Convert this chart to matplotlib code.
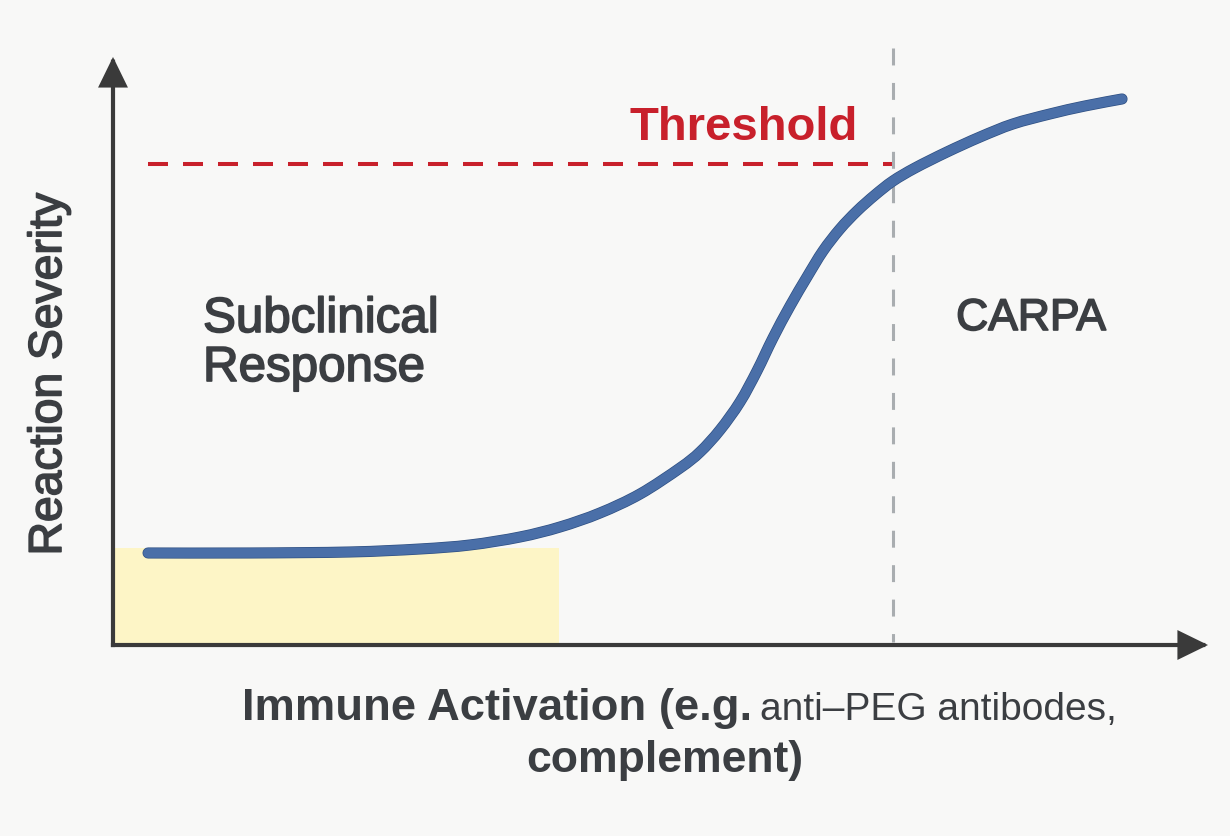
import matplotlib
matplotlib.use("Agg")
import matplotlib.pyplot as plt
from matplotlib.patches import FancyArrowPatch, Rectangle, PathPatch
from matplotlib.path import Path
import matplotlib.patheffects as pe

plt.rcParams['lines.scale_dashes'] = False
plt.rcParams['font.family'] = ['Liberation Sans', 'DejaVu Sans']

# ---- data (arbitrary units: activation 0-100, severity 0-100) ----
activation = [3.20, 12.51, 21.64, 28.04, 32.60, 37.17, 40.82, 44.47, 48.13, 51.78,
              53.61, 55.43, 57.26, 58.81, 60.27, 61.83, 63.38, 64.84, 66.39, 67.95,
              69.59, 71.23, 73.24, 76.16, 79.18, 82.19, 85.57, 88.77, 92.15]
severity = [15.65, 15.65, 15.82, 16.33, 17.01, 18.37, 20.07, 22.45, 25.68, 30.10,
            32.82, 36.56, 41.33, 46.60, 52.21, 57.65, 62.59, 67.01, 70.75, 73.81,
            76.53, 78.91, 81.12, 83.84, 86.39, 88.61, 90.31, 91.67, 92.86]
threshold_level = 81.8
threshold_x_start = 3.2
carpa_onset = 71.2
subclinical_zone = (0.0, 40.7)   # activation range
subclinical_height = 16.5

BG = '#f8f8f7'
AX = '#3a3a3a'
TXT = '#3b3e42'
RED = '#c8202b'
BLUE = '#4a6fa8'

fig = plt.figure(figsize=(12.3, 8.36), dpi=100, facecolor=BG)
ax = fig.add_axes([0, 0, 1, 1])
ax.set_facecolor(BG)
ax.set_xlim(-10.32, 102.01)
ax.set_ylim(-32.48, 109.69)
ax.axis('off')

# subclinical shaded zone
ax.add_patch(Rectangle((subclinical_zone[0], 0), subclinical_zone[1] - subclinical_zone[0],
                       subclinical_height, facecolor='#fdf5c6', edgecolor='none', zorder=1))

# threshold line
ax.plot([threshold_x_start, carpa_onset], [threshold_level, threshold_level],
        color=RED, lw=2.9, linestyle=(0, (14.4, 10.8)), zorder=2)
# CARPA onset vertical line
ax.plot([carpa_onset, carpa_onset], [101.5, 0.5], color='#a9adb0', lw=2.2,
        linestyle=(0, (12.2, 12.6)), zorder=2)

# curve: smooth (Catmull-Rom style Bezier) path through the read points
pts = list(zip(activation, severity))
verts = [pts[0]]
codes = [Path.MOVETO]
n = len(pts)
for i in range(n - 1):
    p0 = pts[i - 1] if i > 0 else pts[i]
    p1 = pts[i]
    p2 = pts[i + 1]
    p3 = pts[i + 2] if i + 2 < n else pts[i + 1]
    c1 = (p1[0] + (p2[0] - p0[0]) / 6.0, p1[1] + (p2[1] - p0[1]) / 6.0)
    c2 = (p2[0] - (p3[0] - p1[0]) / 6.0, p2[1] - (p3[1] - p1[1]) / 6.0)
    verts += [c1, c2, p2]
    codes += [Path.CURVE4, Path.CURVE4, Path.CURVE4]
curve = PathPatch(Path(verts, codes), facecolor='none', edgecolor=BLUE, lw=7,
                  capstyle='round', joinstyle='round', zorder=4,
                  path_effects=[pe.Stroke(linewidth=8, foreground='#2e4f82'), pe.Normal()])
ax.add_patch(curve)

# axes with arrows
for tip in [(0, 100.0), (100.0, 0)]:
    arr = FancyArrowPatch((0, 0), tip,
                          arrowstyle='-|>,head_length=0.45,head_width=0.22',
                          mutation_scale=38, lw=3, color=AX, shrinkA=0, shrinkB=0,
                          zorder=6, joinstyle='miter', capstyle='projecting')
    ax.add_patch(arr)

def px(x, y):
    return (x / 1230.0, 1 - y / 836.0)

heavy = [pe.withStroke(linewidth=1.2, foreground=TXT)]

fig.text(*px(744, 140), 'Threshold', color=RED, fontsize=34, fontweight='bold',
         ha='center', va='baseline')
fig.text(*px(203, 332), 'Subclinical', color=TXT, fontsize=35.5, ha='left',
         va='baseline', path_effects=heavy)
fig.text(*px(203, 381), 'Response', color=TXT, fontsize=35.5, ha='left',
         va='baseline', path_effects=heavy)
fig.text(*px(1031, 330), 'CARPA', color=TXT, fontsize=32, ha='center',
         va='baseline', path_effects=heavy)
fig.text(*px(61, 374), 'Reaction Severity', color=TXT, fontsize=33.3, rotation=90,
         rotation_mode='anchor', ha='center', va='baseline', path_effects=heavy)

fig.text(*px(242, 720), 'Immune Activation (e.g.', color=TXT, fontsize=32.7,
         fontweight='bold', ha='left', va='baseline')
fig.text(*px(760, 720), 'anti\u2013PEG antibodes,', color=TXT, fontsize=28,
         ha='left', va='baseline')
fig.text(*px(665, 772), 'complement)', color=TXT, fontsize=32, fontweight='bold',
         ha='center', va='baseline')

fig.savefig('out.png', dpi=100, facecolor=BG)
